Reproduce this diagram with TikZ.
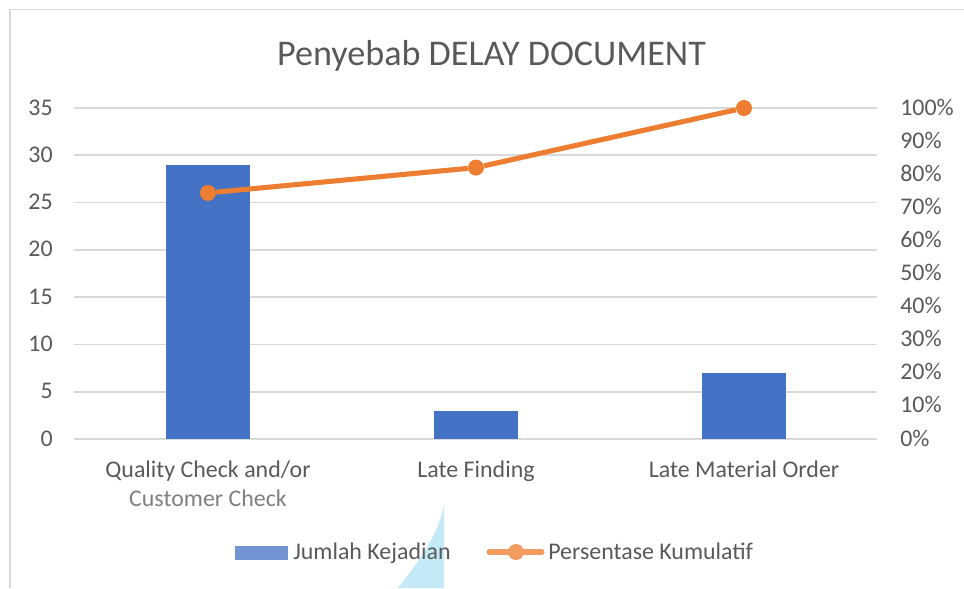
\documentclass[tikz,border=0pt]{standalone}
\usepackage{fontspec}
\setmainfont{Carlito}
\usetikzlibrary{positioning}

\definecolor{barblue}{HTML}{4472C4}
\definecolor{lineorange}{HTML}{ED7D31}
\definecolor{legblue}{HTML}{7294D3}
\definecolor{legorange}{HTML}{F29C60}
\definecolor{axisgray}{HTML}{595959}
\definecolor{softgray}{HTML}{7F7F7F}
\definecolor{gridgray}{HTML}{D9D9D9}
\definecolor{shadeblue}{HTML}{C4EAF8}

\begin{document}
\begin{tikzpicture}[x=0.025cm, y=-0.025cm,
    every node/.style={text=axisgray, font=\fontsize{17}{20}\selectfont, inner sep=0pt},
    gridline/.style={draw=gridgray, line width=1.3pt},
    trend/.style={draw=lineorange, line width=3.6pt},
    dot/.style={circle, fill=lineorange, minimum size=0.4cm}]
  \useasboundingbox (0,0) rectangle (964,588);

  % chart frame
  \draw[gridgray, line width=1.2pt] (10,588) -- (10,9.5) -- (964,9.5);

  % faint shape behind the legend
  \fill[shadeblue] (444,505) -- (444,588) -- (398,588)
    .. controls (420,560) and (438,535) .. (444,505);

  \node[anchor=base, font=\fontsize{25.7}{30}\selectfont] (title) at (491.5,65) {Penyebab DELAY DOCUMENT};

  % grid and axes
  \foreach \i in {0,...,7} {
    \draw[gridline] (74,439-\i*47.286) -- (877,439-\i*47.286);
    \pgfmathtruncatemacro{\val}{5*\i}
    \node[anchor=base east] (left\i) at (53,446-\i*47.286) {\val};
  }
  \foreach \i in {0,...,10} {
    \pgfmathtruncatemacro{\pct}{10*\i}
    \node[anchor=base west] (right\i) at (900,446-\i*33.1) {\pct\%};
  }

  % bars
  \fill[barblue] (166,439) rectangle (250,164.7);
  \fill[barblue] (434,439) rectangle (518,410.6);
  \fill[barblue] (702,439) rectangle (786,372.8);

  % cumulative line
  \node[dot] (p1) at (208,192.9) {};
  \node[dot] (p2) at (476,167.6) {};
  \node[dot] (p3) at (744,108) {};
  \draw[trend] (p1) -- (p2) -- (p3);

  % categories
  \node[anchor=base] (cat1) at (208,477) {Quality Check and/or};
  \node[anchor=base, text=softgray] (cat1b) at (208,506) {Customer Check};
  \node[anchor=base] (cat2) at (476,477) {Late Finding};
  \node[anchor=base] (cat3) at (744,477) {Late Material Order};

  % legend
  \fill[legblue] (235,546) rectangle (288,560);
  \node[anchor=base west] (leg1) at (293,559) {Jumlah Kejadian};
  \coordinate (la) at (489,552);
  \coordinate (lb) at (542,552);
  \draw[legorange, line width=3.6pt, line cap=round] (la) -- (lb);
  \node[circle, fill=legorange, minimum size=0.4cm] (lm) at (516,552) {};
  \node[anchor=base west] (leg2) at (548,559) {Persentase Kumulatif};
\end{tikzpicture}
\end{document}
